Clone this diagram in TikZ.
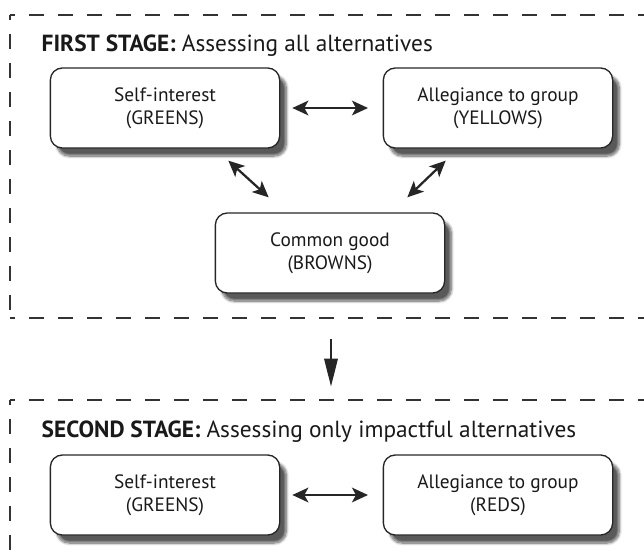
\documentclass[tikz,border=0pt]{standalone}
\usepackage{fontspec}
\setmainfont{PT Sans}
\usetikzlibrary{arrows.meta,shadows.blur}

\begin{document}
\begin{tikzpicture}[x=0.75pt, y=-0.75pt, line join=round, text=black!90,
		font=\fontsize{14.5}{17}\selectfont,
		box/.style={draw=black!85, line width=1pt, rounded corners=9pt, fill=white,
			minimum width=172pt, minimum height=60pt, align=center,
			blur shadow={shadow xshift=5pt, shadow yshift=-6pt, shadow blur steps=10, shadow opacity=65}},
		link/.style={{Stealth[length=12pt,width=11pt,inset=3pt]}-{Stealth[length=12pt,width=11pt,inset=3pt]}, line width=1.7pt, draw=black!85},
		frame/.style={line width=1.3pt, draw=black!80, dash pattern=on 11.25pt off 10.5pt, dash phase=7.5pt},
		title/.style={anchor=base west, font=\fontsize{17.5}{20}\selectfont}]
		\useasboundingbox (0,0) rectangle (644,557);
		\clip (0,0) rectangle (644,557);
		% dashed frames
		\coordinate (tl1) at (10,15);  \coordinate (bl1) at (10,318);
		\coordinate (tl2) at (10,400);
		\draw[frame] (tl1) -- (700,15);
		\draw[frame] (tl1) -- (bl1);
		\draw[frame] (bl1) -- (700,318);
		\draw[frame] (tl2) -- (700,400);
		\draw[frame] (tl2) -- (10,600);
		% first stage
		\node[title] (title1) at (37,51) {\textbf{FIRST STAGE:} Assessing all alternatives};
		\node[box] (self1) at (165,108) {Self-interest\\(GREENS)};
		\node[box] (group1) at (498,108) {Allegiance to group\\(YELLOWS)};
		\node[box] (common) at (330,253) {Common good\\(BROWNS)};
		\draw[link, shorten <=9pt, shorten >=11pt] (self1) -- (group1);
		\draw[link] ([shift={(-52,12)}]self1.south east) -- ([shift={(54,-15)}]common.north west);
		\draw[link] ([shift={(63,12)}]group1.south west) -- ([shift={(-38,-15)}]common.north east);
		% step down
		\coordinate (cut1) at (331,318); \coordinate (cut2) at (331,400);
		\draw[-{Triangle[length=21pt,width=10pt]}, line width=1.7pt, draw=black!85, shorten <=16pt, shorten >=10pt] (cut1) -- (cut2);
		% second stage
		\node[title] (title2) at (37,437) {\textbf{SECOND STAGE:} Assessing only impactful alternatives};
		\node[box] (self2) at (165,495) {Self-interest\\(GREENS)};
		\node[box] (group2) at (498,495) {Allegiance to group\\(REDS)};
		\draw[link, shorten <=9pt, shorten >=11pt] (self2) -- (group2);
\end{tikzpicture}
\end{document}
